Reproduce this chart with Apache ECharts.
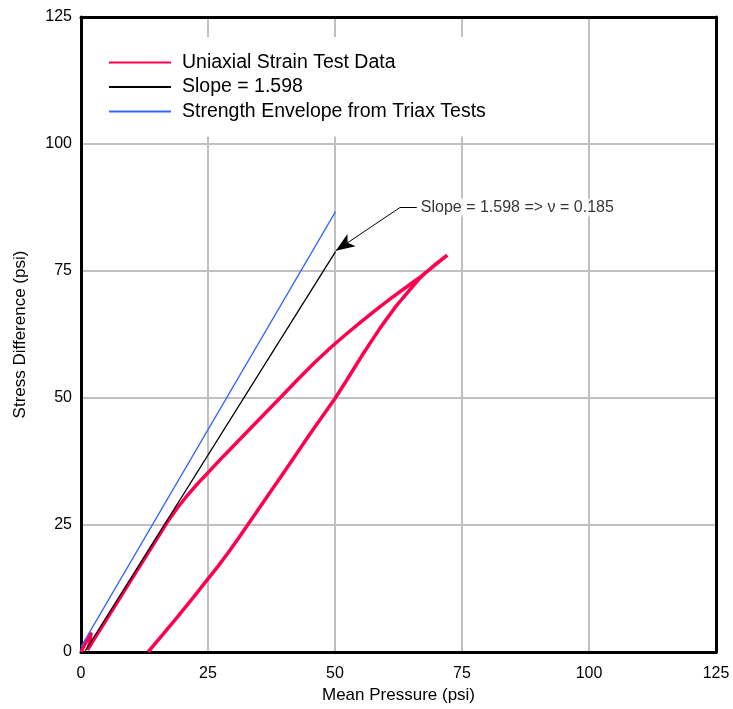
<!DOCTYPE html>
<html lang="en">
<head>
    <meta charset="utf-8">
    <title>Uniaxial strain</title>
    <script src="https://cdn.jsdelivr.net/npm/echarts@6/dist/echarts.min.js"></script>
    <style>
        html, body { margin: 0; padding: 0; background: #fff; }
        #main { width: 733px; height: 709px; }
    </style>
</head>
<body>
<div id="main"></div>
<script type="text/javascript">
    // 读图得到的数据 (加载段 + 卸载段)
    var strainX = [0, 1.0, 2.0, 1.7, 1.3, 2.5, 5, 10, 15, 17, 19, 21, 23, 25, 28, 31, 35, 38.5, 43, 46, 49, 52, 55, 58, 61, 64, 67, 69.5, 72.1,
        70, 68, 66.7, 64.8, 62.1, 58.9, 55.6, 52.3, 50, 45, 41, 37, 33, 31, 29, 27, 25, 22, 19, 16, 13.2];
    var strainY = [0, 2.0, 3.8, 1.8, 0.4, 2.4, 6.4, 14.4, 22.4, 25.6, 28.4, 30.9, 33.2, 35.3, 38.5, 41.6, 45.7, 49.3, 54.0, 57.0, 59.8, 62.4, 64.9, 67.3, 69.6, 71.8, 74.0, 76.0, 78.1,
        76.5, 74.8, 73.6, 71.4, 68.2, 63.8, 58.8, 53.5, 49.9, 42.8, 36.9, 31.1, 25.3, 22.4, 19.6, 16.9, 14.4, 10.6, 6.9, 3.3, 0];
    var slopeX = [0.7, 50.1];
    var slopeY = [0, 78.8];
    var envelopeX = [0, 50.1];
    var envelopeY = [1.0, 86.7];
    var noteX = [66.1, 62.8, 50.15];
    var noteY = [87.5, 87.5, 79.0];
    var noteText = 'Slope = 1.598 => \u03bd = 0.185';
    var ticks = [0, 25, 50, 75, 100, 125];

    function pairs(xs, ys) {
        var out = [];
        for (var i = 0; i < xs.length; i++) {
            out.push([xs[i], ys[i]]);
        }
        return out;
    }

    var font = 'Liberation Sans, Arial, sans-serif';
    var myChart = echarts.init(document.getElementById('main'));

    var valueAxis = function (extra) {
        return Object.assign({
            type: 'value',
            min: ticks[0],
            max: ticks[ticks.length - 1],
            interval: 25,
            axisLine: { show: true, onZero: false, lineStyle: { color: '#000', width: 3 } },
            axisTick: { show: false },
            splitLine: { show: true, showMinLine: false, showMaxLine: false, lineStyle: { color: '#c0c0c0', width: 2 } },
            axisLabel: { fontFamily: font, fontSize: 16, color: '#000' },
            nameTextStyle: { fontFamily: font, fontSize: 17, color: '#000' }
        }, extra);
    };

    myChart.setOption({
        animation: false,
        backgroundColor: '#fff',
        grid: { left: 81, right: 17, top: 17, bottom: 55 },
        legend: {
            orient: 'vertical',
            left: 95,
            top: 37,
            padding: [15.5, 12, 15, 13],
            itemGap: 4.5,
            itemWidth: 62,
            itemHeight: 18,
            backgroundColor: '#fff',
            itemStyle: { opacity: 0 },
            textStyle: { fontFamily: font, fontSize: 19.5, color: '#000', lineHeight: 19, padding: [0, 0, 0, 6] },
            data: ['Uniaxial Strain Test Data', 'Slope = 1.598', 'Strength Envelope from Triax Tests']
        },
        xAxis: [
            valueAxis({
                name: 'Mean Pressure (psi)', nameLocation: 'middle', nameGap: 35,
                axisLabel: { fontFamily: font, fontSize: 16, color: '#000', margin: 14 }
            }),
            valueAxis({
                position: 'top', axisLabel: { show: false }, splitLine: { show: false }
            })
        ],
        yAxis: [
            valueAxis({
                name: 'Stress Difference (psi)', nameLocation: 'middle', nameGap: 52,
                axisLabel: { fontFamily: font, fontSize: 16, color: '#000', margin: 9 }
            }),
            valueAxis({
                position: 'right', axisLabel: { show: false }, splitLine: { show: false }
            })
        ],
        series: [
            {
                name: 'Uniaxial Strain Test Data',
                type: 'line',
                symbol: 'none',
                lineStyle: { color: '#ff0050', width: 3.5 },
                itemStyle: { color: '#ff0050' },
                data: pairs(strainX, strainY),
                z: 3
            },
            {
                name: 'Slope = 1.598',
                type: 'line',
                symbol: 'none',
                lineStyle: { color: '#000', width: 1.3 },
                itemStyle: { color: '#000' },
                data: pairs(slopeX, slopeY),
                z: 4
            },
            {
                name: 'Strength Envelope from Triax Tests',
                type: 'line',
                symbol: 'none',
                lineStyle: { color: '#3366ff', width: 1.3 },
                itemStyle: { color: '#3366ff' },
                data: pairs(envelopeX, envelopeY),
                z: 4
            },
            {
                name: 'note',
                type: 'line',
                symbol: 'none',
                silent: true,
                lineStyle: { color: '#000', width: 1 },
                data: pairs(noteX.slice(0, 2), noteY.slice(0, 2)),
                markLine: {
                    silent: true,
                    symbol: ['none', 'arrow'],
                    symbolSize: [11, 19],
                    label: { show: false },
                    lineStyle: { color: '#000', width: 1, type: 'solid' },
                    itemStyle: { color: '#000' },
                    data: [[{ coord: [noteX[1], noteY[1]] }, { coord: [noteX[2], noteY[2]] }]]
                },
                z: 5
            },
            {
                name: 'noteText',
                type: 'scatter',
                symbolSize: 0,
                silent: true,
                data: [[noteX[0], noteY[0]]],
                label: {
                    show: true,
                    position: 'right',
                    distance: 4,
                    formatter: noteText,
                    fontFamily: font,
                    fontSize: 16,
                    color: '#000',
                    backgroundColor: '#fff',
                    padding: [1, 0, 1, 0]
                },
                z: 5
            }
        ]
    });
</script>
</body>
</html>
